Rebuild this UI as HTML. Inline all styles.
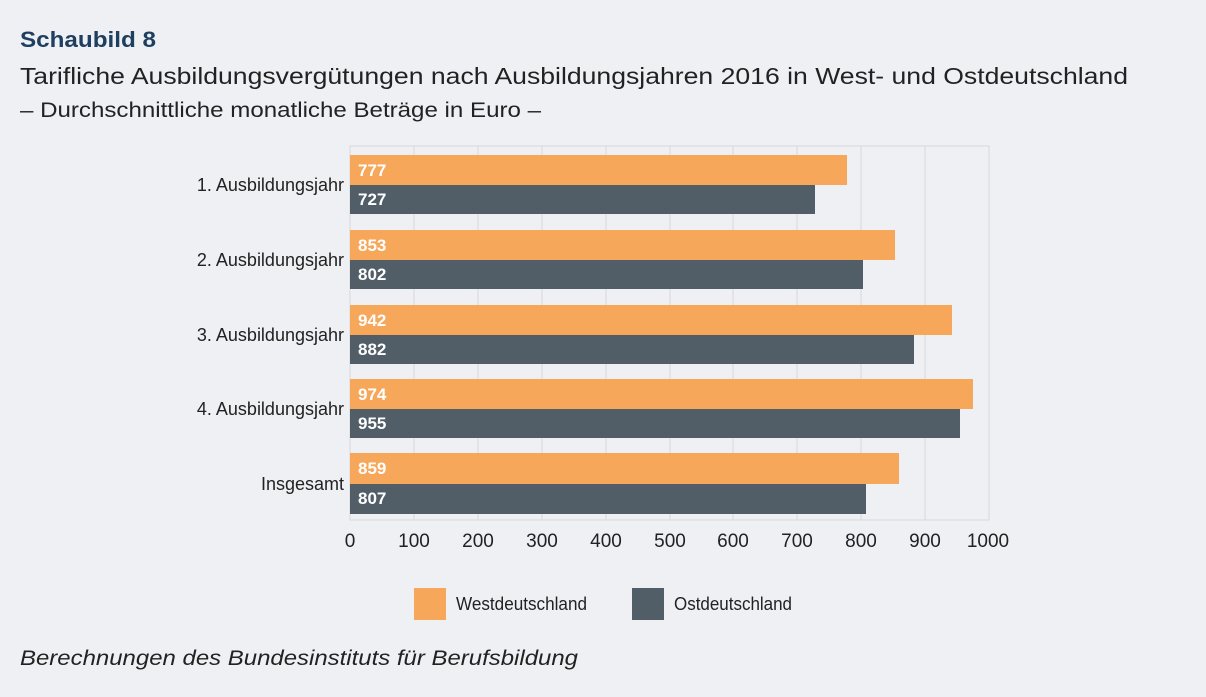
<!DOCTYPE html>
<html><head><meta charset="utf-8"><style>
body{margin:0;background:#eff0f4;font-family:"Liberation Sans",sans-serif;}
</style></head><body>
<svg width="1206" height="692" xmlns="http://www.w3.org/2000/svg" font-family="Liberation Sans, sans-serif">
<rect width="1206" height="692" fill="#eff0f4"/>
<text x="20" y="47" font-size="22" font-weight="bold" fill="#1f3f60" textLength="136" lengthAdjust="spacingAndGlyphs">Schaubild 8</text>
<text x="20" y="84" font-size="23" fill="#222" textLength="1108" lengthAdjust="spacingAndGlyphs">Tarifliche Ausbildungsvergütungen nach Ausbildungsjahren 2016 in West- und Ostdeutschland</text>
<text x="20" y="117" font-size="21" fill="#222" textLength="521" lengthAdjust="spacingAndGlyphs">– Durchschnittliche monatliche Beträge in Euro –</text>
<rect x="350" y="146" width="639" height="374" fill="none" stroke="#d8d8dc"/>
<g stroke="#d8d8dc">
<line x1="414" y1="146" x2="414" y2="520"/><line x1="478" y1="146" x2="478" y2="520"/>
<line x1="542" y1="146" x2="542" y2="520"/><line x1="606" y1="146" x2="606" y2="520"/>
<line x1="670" y1="146" x2="670" y2="520"/><line x1="733" y1="146" x2="733" y2="520"/>
<line x1="797" y1="146" x2="797" y2="520"/><line x1="861" y1="146" x2="861" y2="520"/>
<line x1="925" y1="146" x2="925" y2="520"/>
</g>
<g font-size="17" fill="#fff" font-weight="bold">
<rect x="350" y="155" width="497" height="30" fill="#f7a75a"/><rect x="350" y="185" width="465" height="29" fill="#515e68"/>
<text x="358" y="176">777</text><text x="358" y="205">727</text>
<rect x="350" y="230" width="545" height="30" fill="#f7a75a"/><rect x="350" y="260" width="513" height="29" fill="#515e68"/>
<text x="358" y="251">853</text><text x="358" y="280">802</text>
<rect x="350" y="305" width="602" height="30" fill="#f7a75a"/><rect x="350" y="335" width="564" height="29" fill="#515e68"/>
<text x="358" y="326">942</text><text x="358" y="355">882</text>
<rect x="350" y="379" width="623" height="30" fill="#f7a75a"/><rect x="350" y="409" width="610" height="29" fill="#515e68"/>
<text x="358" y="400">974</text><text x="358" y="429">955</text>
<rect x="350" y="453" width="549" height="31" fill="#f7a75a"/><rect x="350" y="484" width="516" height="30" fill="#515e68"/>
<text x="358" y="474">859</text><text x="358" y="504">807</text>
</g>
<g font-size="18" fill="#222" text-anchor="end">
<text x="344" y="191">1. Ausbildungsjahr</text>
<text x="344" y="266">2. Ausbildungsjahr</text>
<text x="344" y="341">3. Ausbildungsjahr</text>
<text x="344" y="415">4. Ausbildungsjahr</text>
<text x="344" y="490">Insgesamt</text>
</g>
<g font-size="19" fill="#222" text-anchor="middle">
<text x="350" y="547">0</text><text x="414" y="547">100</text><text x="478" y="547">200</text>
<text x="542" y="547">300</text><text x="606" y="547">400</text><text x="670" y="547">500</text>
<text x="733" y="547">600</text><text x="797" y="547">700</text><text x="861" y="547">800</text>
<text x="925" y="547">900</text><text x="988" y="547">1000</text>
</g>
<rect x="414" y="588" width="32" height="32" fill="#f7a75a"/>
<text x="456" y="610" font-size="18" fill="#222" textLength="131" lengthAdjust="spacingAndGlyphs">Westdeutschland</text>
<rect x="632" y="588" width="32" height="32" fill="#515e68"/>
<text x="674" y="610" font-size="18" fill="#222" textLength="118" lengthAdjust="spacingAndGlyphs">Ostdeutschland</text>
<text x="20" y="665" font-size="21" font-style="italic" fill="#222" textLength="558" lengthAdjust="spacingAndGlyphs">Berechnungen des Bundesinstituts für Berufsbildung</text>
</svg>
</body></html>
